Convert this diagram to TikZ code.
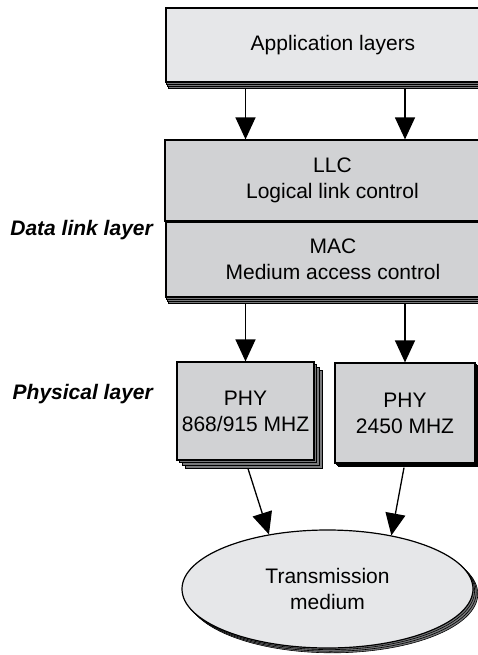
\documentclass[tikz,border=0pt]{standalone}
\usepackage{fontspec}
\setmainfont{Liberation Sans}
\usetikzlibrary{positioning,shapes,arrows.meta,shadows}

\definecolor{lightgray}{RGB}{230,231,233}
\definecolor{midgray}{RGB}{209,210,212}
\definecolor{stackgray}{RGB}{120,121,123}

\tikzset{
  ghost/.style={fill=stackgray, draw=black, line width=0.6pt},
  stacked/.style 2 args={
    copy shadow={shadow xshift=#1*3,shadow yshift=-#2*3,ghost},
    copy shadow={shadow xshift=#1*2,shadow yshift=-#2*2,ghost},
    copy shadow={shadow xshift=#1,shadow yshift=-#2,ghost}},
  layer/.style={draw, line width=1.2pt, fill=midgray, align=center,
    font=\fontsize{21}{26}\selectfont, inner sep=0pt},
  side/.style={font=\fontsize{21}{26}\selectfont\bfseries\itshape, inner sep=0pt},
  flow/.style={line width=1.3pt, -{Triangle[length=22pt,width=20pt]}}
}

\begin{document}
\begin{tikzpicture}[x=1pt,y=-1pt]
	\clip (0,0) rectangle (478,655);
	\fill[white] (0,0) rectangle (478,655);

	% upper layers
	\node[layer, fill=lightgray, minimum width=334, minimum height=74, stacked={0.6pt}{2pt}]
	      (app) at (333,45) {Application layers};

	% data link layer
	\node[layer, minimum width=335, minimum height=81] (llc) at (332.5,180.5) {LLC\\Logical link control};
	\node[layer, minimum width=334, minimum height=75, stacked={0.6pt}{2pt}]
	      (mac) at (333,259.5) {MAC\\Medium access control};

	% physical layer
	\node[layer, minimum width=137, minimum height=98, stacked={2.7pt}{2.7pt}] (phyA) at (245.5,411) {PHY\\868/915 MHZ};
	\node[layer, minimum width=140, minimum height=100, stacked={1.2pt}{1.2pt}]
	      (phyB) at (405,413) {PHY\\2450 MHZ};

	% medium
	\node[layer, ellipse, fill=lightgray, minimum width=291, minimum height=118, stacked={1.6pt}{1.6pt}]
	      (medium) at (327.5,589) {Transmission\\medium};

	% side labels
	\node[side, anchor=base east] (dll) at (153,235) {Data link layer};
	\node[side, anchor=base east] (phy) at (153,399) {Physical layer};

	% arrows
	\draw[flow] ([yshift=-6pt]app.south -| phyA) -- (llc.north -| phyA);
	\draw[flow] ([yshift=-6pt]app.south -| phyB) -- (llc.north -| phyB);
	\draw[flow] ([yshift=-6pt]mac.south -| phyA) -- (phyA.north);
	\draw[flow] ([yshift=-6pt]mac.south -| phyB) -- (phyB.north);
	\draw[flow] ([xshift=2.5pt,yshift=-8pt]phyA.south) -- (medium.137);
	\draw[flow] ([xshift=-1pt,yshift=-4pt]phyB.south) -- (medium.40);
\end{tikzpicture}
\end{document}
